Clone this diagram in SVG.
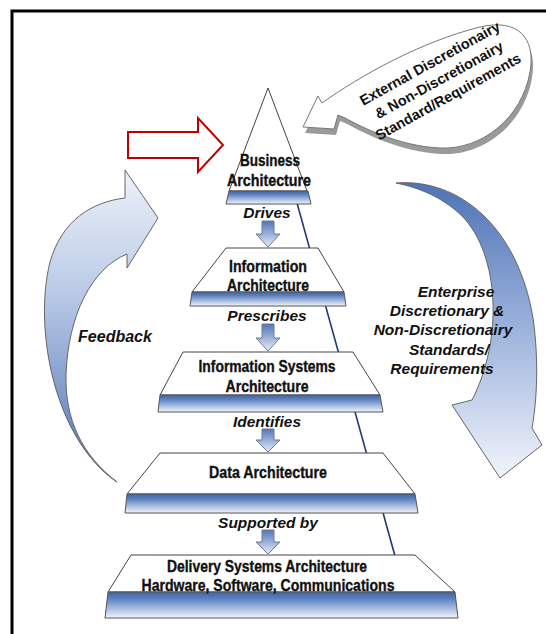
<svg xmlns="http://www.w3.org/2000/svg" width="546" height="634" viewBox="0 0 546 634">
<defs>
<linearGradient id="band" x1="0" y1="0" x2="0" y2="1">
<stop offset="0" stop-color="#43649f"/>
<stop offset="0.25" stop-color="#5a7fc0"/>
<stop offset="1" stop-color="#f2f5fb"/>
</linearGradient>
<linearGradient id="small" x1="0" y1="0" x2="0" y2="1">
<stop offset="0" stop-color="#5276b8"/>
<stop offset="1" stop-color="#e6ecf7"/>
</linearGradient>
<linearGradient id="fb" x1="0" y1="0" x2="0" y2="1">
<stop offset="0" stop-color="#eef2f9"/>
<stop offset="0.4" stop-color="#b9c9e6"/>
<stop offset="1" stop-color="#4d72b5"/>
</linearGradient>
<linearGradient id="ent" x1="0" y1="0" x2="0" y2="1">
<stop offset="0" stop-color="#4e73b6"/>
<stop offset="0.5" stop-color="#9db3dc"/>
<stop offset="1" stop-color="#f2f5fb"/>
</linearGradient>
<style>
.tier{fill:#ffffff;stroke:#444;stroke-width:1}
.band{fill:url(#band);stroke:#555;stroke-width:1}
.sa{fill:url(#small);stroke:#6a7a95;stroke-width:1}
.tt{font-family:"Liberation Sans",Arial,sans-serif;font-weight:bold;font-size:16px;fill:#111;stroke:#111;stroke-width:0.35;text-anchor:middle}
.lb{font-family:"Liberation Sans",Arial,sans-serif;font-weight:bold;font-style:italic;font-size:15.5px;fill:#111;text-anchor:middle}
.ct{font-family:"Liberation Sans",Arial,sans-serif;font-weight:bold;font-size:14.5px;fill:#111;text-anchor:middle}
</style>
</defs>
<rect width="546" height="634" fill="#ffffff"/>
<g id="frame" fill="none" stroke="#000" stroke-width="3">
<path d="M12,634 V11 H546"/>
</g>
<g id="connectors">
<line x1="297" y1="203" x2="395" y2="556" stroke="#1f3a78" stroke-width="1.6"/>
<path class="sa" d="M262,221 H274 V234 H280 L268,247 L256,234 H262 Z"/>
<path class="sa" d="M262,324 H274 V338 H280 L268,351 L256,338 H262 Z"/>
<path class="sa" d="M262,429 H274 V440 H280 L268,452 L256,440 H262 Z"/>
<path class="sa" d="M262,530 H274 V542 H280 L268,554 L256,542 H262 Z"/>
</g>
<g id="business">
<path class="tier" d="M268,88 L307,191 H229 Z"/>
<path class="band" d="M229,191 H308 L311,204 H226 Z"/>
<text class="tt" x="270" y="166" textLength="60" lengthAdjust="spacingAndGlyphs">Business</text>
<text class="tt" x="269" y="186" textLength="84" lengthAdjust="spacingAndGlyphs">Architecture</text>
</g>
<g id="information">
<path class="tier" d="M226,248 H318 L344,292 H192 Z"/>
<path class="band" d="M192,292 H344 L346,306 H190 Z"/>
<text class="tt" x="268" y="272" textLength="78" lengthAdjust="spacingAndGlyphs">Information</text>
<text class="tt" x="268" y="291" textLength="82" lengthAdjust="spacingAndGlyphs">Architecture</text>
</g>
<g id="infosystems">
<path class="tier" d="M183,352 H353 L380,395 H160 Z"/>
<path class="band" d="M160,395 H380 L383,412 H158 Z"/>
<text class="tt" x="267" y="372" textLength="137" lengthAdjust="spacingAndGlyphs">Information Systems</text>
<text class="tt" x="267" y="392" textLength="83" lengthAdjust="spacingAndGlyphs">Architecture</text>
</g>
<g id="data">
<path class="tier" d="M160,453 H383 L415,494 H127 Z"/>
<path class="band" d="M127,494 H415 L418,513 H125 Z"/>
<text class="tt" x="268" y="478" textLength="118" lengthAdjust="spacingAndGlyphs">Data Architecture</text>
</g>
<g id="delivery">
<path class="tier" d="M131,555 H415 L455,592 H108 Z"/>
<path class="band" d="M108,592 H455 L458,618 H105 Z"/>
<text class="tt" x="267" y="572" textLength="200" lengthAdjust="spacingAndGlyphs">Delivery Systems Architecture</text>
<text class="tt" x="268" y="591" textLength="253" lengthAdjust="spacingAndGlyphs">Hardware, Software, Communications</text>
</g>
<g id="labels">
<text class="lb" x="267" y="218">Drives</text>
<text class="lb" x="267" y="321">Prescribes</text>
<text class="lb" x="267" y="427">Identifies</text>
<text class="lb" x="268" y="528">Supported by</text>
</g>
<g id="red-arrow">
<path d="M128,132 H198 V118 L223,145 L198,172 V158 H128 Z" fill="#fff" stroke="#c00000" stroke-width="2"/>
</g>
<g id="feedback">
<path d="M117,482 C55,440 33,330 50,262 C62,220 92,202 125,198 L125,170 L158,218 L127,268 L127,254 C92,268 68,315 66,375 C65,420 82,455 117,482 Z" fill="url(#fb)" stroke="#666" stroke-width="1"/>
<text class="lb" x="115" y="342" style="font-size:16px">Feedback</text>
</g>
<g id="enterprise">
<path d="M396,183 C460,178 518,228 533,318 C539,360 537,400 532,428 L542,445 L500,478 L452,405 L472,400 C503,340 500,255 462,216 C442,197 420,188 396,183 Z" fill="url(#ent)" stroke="#666" stroke-width="1"/>
<text class="lb" x="456" y="297" style="font-size:15.5px">Enterprise</text>
<text class="lb" x="447" y="316" style="font-size:15.5px">Discretionary &amp;</text>
<text class="lb" x="443" y="335" style="font-size:15.5px">Non-Discretionairy</text>
<text class="lb" x="449" y="355" style="font-size:15.5px">Standards/</text>
<text class="lb" x="442" y="374" style="font-size:15.5px">Requirements</text>
</g>
<g id="external">
<path d="M303,127 L318,96 L322,103 C360,76 420,42 480,27 C518,18 536,38 530,72 C522,118 482,150 440,148 C398,146 362,127 345,118 L338,115 L334,129 Z" fill="#9a9a9a" transform="translate(2,6)"/>
<path d="M303,127 L318,96 L322,103 C360,76 420,42 480,27 C518,18 536,38 530,72 C522,118 482,150 440,148 C398,146 362,127 345,118 L338,115 L334,129 Z" fill="#fff" stroke="#777" stroke-width="1"/>
<g transform="translate(439,80) rotate(-29)">
<text class="ct" x="0" y="-14">External Discretionairy</text>
<text class="ct" x="0" y="5">&amp; Non-Discretionairy</text>
<text class="ct" x="0" y="24">Standard/Requirements</text>
</g>
</g>
</svg>
